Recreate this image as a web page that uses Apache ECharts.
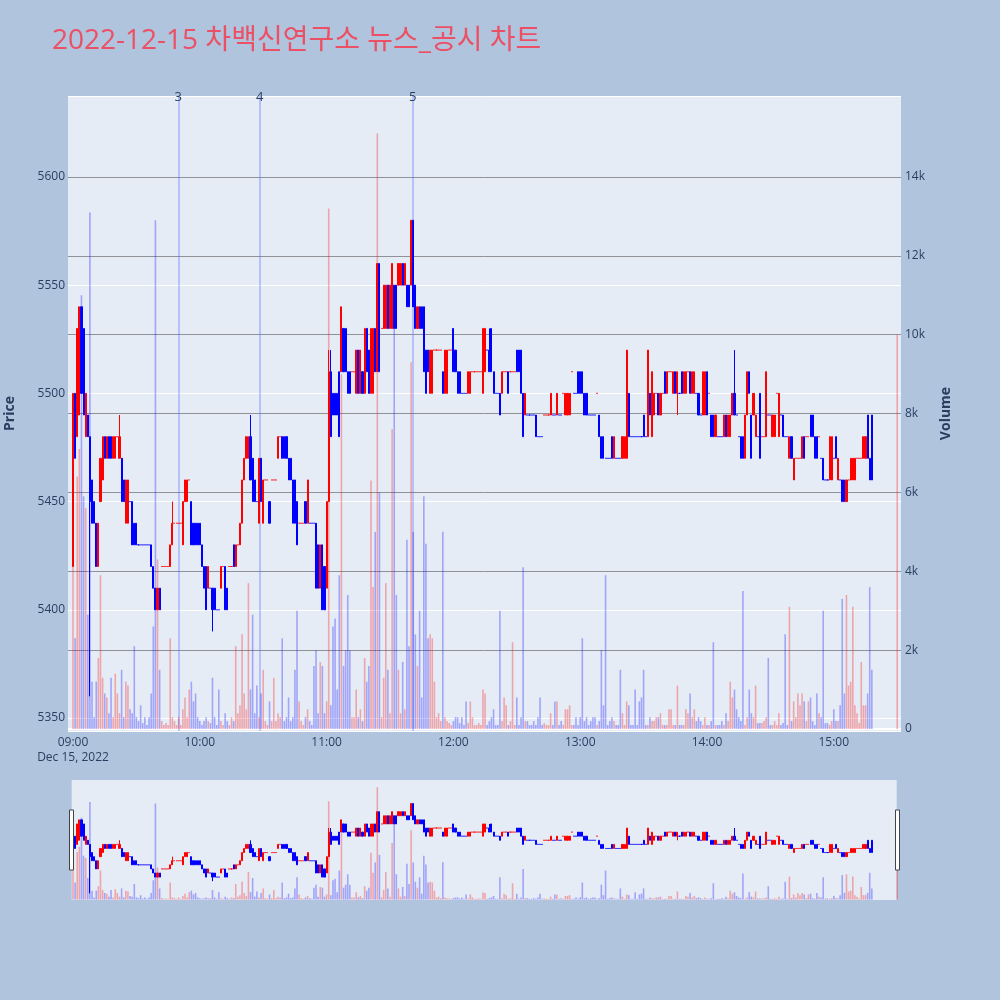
<!DOCTYPE html>
<html>
<head>
<meta charset="utf-8">
<script src="https://cdn.jsdelivr.net/npm/echarts@6.0.0/dist/echarts.min.js"></script>
<style>
  html, body { margin: 0; padding: 0; background: #B0C4DE; }
  #chart { width: 1000px; height: 1000px; }
</style>
</head>
<body>
<div id="chart"></div>
<script>
// one candle per minute from 09:00, [open, close, low, high]
const candles = [
  [5420,5500,5420,5500],[5500,5470,5470,5500],[5480,5530,5480,5530],[5490,5540,5490,5540],[5540,5500,5500,5540],
  [5530,5490,5490,5530],[5480,5500,5480,5500],[5490,5480,5480,5490],[5480,5450,5360,5480],[5460,5440,5440,5460],
  [5450,5440,5440,5450],[5440,5420,5420,5440],[5420,5440,5420,5440],[5450,5470,5450,5470],[5460,5480,5460,5480],
  [5480,5470,5470,5480],[5470,5480,5470,5480],[5480,5470,5470,5480],[5480,5470,5470,5480],[5470,5480,5470,5480],
  [5470,5480,5470,5480],[5480,5480,5480,5480],[5470,5480,5470,5490],[5470,5450,5450,5470],[5460,5450,5450,5460],
  [5440,5460,5440,5460],[5440,5460,5440,5460],[5450,5450,5450,5450],[5450,5430,5430,5450],[5440,5430,5430,5440],
  [5440,5430,5430,5440],[5430,5430,5430,5430],[5430,5430,5430,5430],[5430,5430,5430,5430],[5430,5430,5430,5430],
  [5430,5430,5430,5430],[5430,5430,5430,5430],[5430,5420,5420,5430],[5420,5410,5410,5420],[5410,5400,5400,5410],
  [5400,5410,5400,5410],[5410,5400,5400,5410],[5420,5420,5420,5420],[5420,5420,5420,5420],[5420,5420,5420,5420],
  [5420,5420,5420,5420],[5420,5430,5420,5430],[5430,5440,5430,5450],[5440,5440,5440,5440],[5440,5440,5440,5440],
  [5440,5440,5440,5440],[5440,5440,5440,5440],[5430,5450,5430,5450],[5450,5460,5450,5460],[5450,5460,5450,5460],
  [5460,5460,5460,5460],[5450,5430,5430,5450],[5440,5430,5430,5440],[5440,5430,5430,5440],[5440,5430,5430,5440],
  [5440,5430,5430,5440],[5430,5420,5420,5430],[5420,5410,5410,5420],[5420,5400,5400,5420],[5410,5420,5410,5420],
  [5410,5410,5410,5410],[5410,5400,5390,5410],[5410,5400,5400,5410],[5400,5400,5400,5400],[5400,5400,5400,5400],
  [5410,5420,5410,5420],[5420,5420,5420,5420],[5420,5400,5400,5420],[5410,5400,5400,5410],[5420,5420,5420,5420],
  [5420,5420,5420,5420],[5430,5420,5420,5430],[5420,5430,5420,5430],[5430,5430,5430,5430],[5430,5440,5430,5440],
  [5440,5460,5440,5460],[5460,5470,5460,5470],[5470,5480,5470,5480],[5470,5480,5470,5480],[5480,5460,5460,5490],
  [5470,5450,5450,5470],[5460,5450,5450,5460],[5450,5450,5450,5450],[5440,5470,5440,5470],[5470,5450,5450,5470],
  [5440,5460,5440,5460],[5460,5460,5460,5460],[5460,5460,5460,5460],[5450,5440,5440,5450],[5460,5460,5460,5460],
  [5460,5460,5460,5460],[5460,5460,5460,5460],[5470,5480,5470,5480],[5480,5480,5480,5480],[5480,5470,5470,5480],
  [5480,5470,5470,5480],[5480,5470,5470,5480],[5470,5460,5460,5470],[5470,5460,5460,5470],[5460,5440,5440,5460],
  [5460,5440,5440,5460],[5450,5430,5430,5450],[5440,5440,5440,5440],[5440,5440,5440,5440],[5440,5440,5440,5440],
  [5450,5440,5440,5450],[5440,5460,5440,5460],[5440,5440,5440,5440],[5440,5440,5440,5440],[5440,5440,5440,5440],
  [5440,5410,5410,5440],[5430,5410,5410,5430],[5410,5430,5410,5430],[5430,5400,5400,5430],[5420,5400,5400,5420],
  [5410,5450,5410,5450],[5450,5510,5450,5520],[5510,5480,5480,5520],[5500,5490,5490,5500],[5500,5490,5490,5500],
  [5500,5490,5490,5500],[5510,5480,5480,5510],[5510,5540,5510,5540],[5530,5510,5510,5530],[5530,5510,5510,5530],
  [5510,5500,5500,5510],[5510,5500,5500,5510],[5510,5510,5510,5510],[5510,5510,5510,5510],[5500,5520,5500,5520],
  [5520,5500,5500,5520],[5500,5520,5500,5520],[5510,5500,5500,5510],[5500,5530,5500,5530],[5530,5510,5510,5530],
  [5520,5500,5500,5520],[5500,5530,5500,5530],[5500,5530,5500,5530],[5530,5510,5510,5530],[5510,5560,5510,5560],
  [5560,5510,5510,5560],[5530,5530,5530,5530],[5530,5550,5530,5550],[5530,5550,5530,5550],[5550,5530,5530,5550],
  [5530,5550,5530,5550],[5530,5560,5530,5560],[5550,5530,5530,5550],[5550,5530,5530,5550],[5550,5560,5550,5560],
  [5550,5560,5550,5560],[5560,5550,5550,5560],[5550,5560,5550,5560],[5550,5540,5540,5550],[5550,5540,5540,5550],
  [5550,5580,5550,5580],[5580,5540,5540,5580],[5550,5530,5530,5550],[5530,5540,5530,5540],[5540,5530,5530,5540],
  [5540,5530,5530,5540],[5540,5510,5510,5540],[5520,5500,5500,5520],[5520,5510,5510,5520],[5500,5520,5500,5520],
  [5500,5520,5500,5520],[5520,5520,5520,5520],[5520,5520,5520,5520],[5520,5520,5520,5520],[5520,5520,5520,5520],
  [5510,5500,5500,5510],[5500,5520,5500,5520],[5500,5520,5500,5520],[5520,5520,5520,5520],[5520,5520,5520,5520],
  [5530,5510,5510,5530],[5520,5510,5510,5520],[5510,5500,5500,5510],[5510,5500,5500,5510],[5500,5500,5500,5500],
  [5500,5500,5500,5500],[5500,5500,5500,5500],[5500,5510,5500,5510],[5500,5510,5500,5510],[5510,5510,5510,5510],
  [5510,5510,5510,5510],[5510,5510,5510,5510],[5510,5510,5510,5510],[5510,5510,5510,5510],[5500,5530,5500,5530],
  [5510,5530,5510,5530],[5520,5520,5520,5520],[5520,5510,5510,5530],[5530,5510,5510,5530],[5510,5500,5500,5510],
  [5500,5500,5500,5500],[5500,5500,5500,5500],[5500,5490,5490,5500],[5500,5510,5500,5510],[5510,5510,5510,5510],
  [5510,5510,5510,5510],[5510,5500,5500,5510],[5510,5510,5510,5510],[5510,5510,5510,5510],[5510,5510,5510,5510],
  [5520,5510,5510,5520],[5520,5510,5510,5520],[5520,5500,5500,5520],[5500,5480,5480,5500],[5490,5500,5490,5500],
  [5490,5490,5490,5490],[5490,5490,5490,5490],[5490,5490,5490,5490],[5490,5490,5490,5490],[5490,5480,5480,5490],
  [5480,5480,5480,5480],[5480,5480,5480,5480],[5480,5480,5480,5480],[5490,5490,5490,5490],[5490,5490,5490,5490],
  [5490,5490,5490,5490],[5490,5500,5490,5500],[5490,5490,5490,5490],[5490,5490,5490,5490],[5490,5500,5490,5500],
  [5490,5490,5490,5490],[5490,5490,5490,5490],[5500,5500,5500,5500],[5490,5500,5490,5500],[5490,5500,5490,5500],
  [5490,5500,5490,5500],[5510,5510,5510,5510],[5500,5500,5500,5500],[5500,5500,5500,5500],[5510,5500,5500,5510],
  [5510,5500,5500,5510],[5510,5500,5500,5510],[5500,5490,5490,5500],[5500,5490,5490,5500],[5490,5490,5490,5490],
  [5490,5490,5490,5490],[5490,5490,5490,5490],[5490,5490,5490,5490],[5500,5500,5500,5500],
  [5490,5480,5480,5490],[5480,5470,5470,5480],[5480,5470,5470,5480],[5470,5470,5470,5470],[5470,5470,5470,5470],
  [5470,5470,5470,5470],[5480,5470,5470,5480],[5470,5480,5470,5480],[5470,5470,5470,5470],[5470,5470,5470,5470],
  [5470,5470,5470,5470],[5470,5480,5470,5480],[5470,5480,5470,5480],[5470,5520,5470,5520],[5500,5480,5480,5500],
  [5480,5480,5480,5480],[5480,5480,5480,5480],[5480,5480,5480,5480],[5480,5480,5480,5480],[5480,5480,5480,5480],
  [5480,5480,5480,5480],[5490,5480,5480,5490],[5480,5480,5480,5480],[5480,5520,5480,5520],[5500,5490,5490,5500],
  [5480,5510,5480,5510],[5490,5500,5490,5500],[5500,5500,5500,5500],[5500,5490,5490,5500],[5490,5500,5490,5500],
  [5500,5500,5500,5500],[5510,5500,5500,5510],[5500,5510,5500,5510],[5510,5510,5510,5510],[5510,5510,5510,5510],
  [5500,5510,5500,5510],[5510,5500,5500,5510],[5500,5510,5490,5510],[5500,5500,5500,5500],[5510,5500,5500,5510],
  [5500,5510,5500,5510],[5500,5510,5500,5510],[5510,5510,5510,5510],[5510,5500,5500,5510],[5500,5510,5500,5510],
  [5500,5510,5500,5510],[5500,5500,5500,5500],[5500,5490,5490,5500],[5490,5490,5490,5490],[5490,5510,5490,5510],
  [5490,5510,5490,5510],[5510,5490,5490,5510],[5500,5500,5500,5500],[5490,5480,5480,5490],[5490,5480,5480,5490],
  [5480,5490,5480,5490],[5480,5480,5480,5480],[5480,5480,5480,5480],[5480,5480,5480,5480],[5480,5490,5480,5490],
  [5490,5480,5480,5490],[5480,5490,5480,5490],[5480,5490,5480,5490],[5490,5500,5490,5500],[5500,5490,5490,5520],
  [5490,5490,5490,5490],[5480,5480,5480,5480],[5480,5470,5470,5480],[5480,5470,5470,5480],[5470,5490,5470,5490],
  [5490,5510,5490,5510],[5510,5500,5500,5510],[5490,5470,5470,5490],[5490,5500,5490,5500],[5480,5490,5480,5490],
  [5480,5480,5480,5480],[5500,5470,5470,5500],[5480,5480,5480,5480],[5480,5480,5480,5480],
  [5480,5510,5480,5510],[5490,5490,5490,5490],[5490,5490,5490,5490],[5480,5490,5480,5490],[5480,5490,5480,5490],
  [5500,5500,5500,5500],[5480,5500,5480,5500],[5490,5490,5490,5490],[5490,5480,5480,5490],[5480,5480,5480,5480],
  [5480,5480,5480,5480],[5470,5480,5470,5480],[5480,5470,5470,5480],[5460,5470,5460,5470],[5470,5470,5470,5470],
  [5470,5470,5470,5470],[5470,5470,5470,5470],[5470,5480,5470,5480],[5480,5470,5470,5480],[5480,5480,5480,5480],
  [5480,5480,5480,5480],[5490,5480,5480,5490],[5490,5480,5480,5490],[5480,5470,5470,5480],[5480,5470,5470,5480],
  [5480,5480,5480,5480],[5470,5470,5470,5470],[5470,5460,5460,5470],[5460,5460,5460,5460],[5460,5460,5460,5460],
  [5460,5480,5460,5480],[5460,5480,5460,5480],[5470,5470,5470,5470],[5480,5470,5470,5480],[5460,5470,5460,5470],
  [5460,5460,5460,5460],[5460,5450,5450,5460],[5460,5450,5450,5460],[5450,5460,5450,5460],[5460,5460,5460,5460],
  [5460,5470,5460,5470],[5460,5470,5460,5470],[5460,5470,5460,5470],[5470,5470,5470,5470],[5470,5470,5470,5470],
  [5470,5470,5470,5470],[5470,5480,5470,5480],[5470,5480,5470,5480],[5490,5470,5470,5490],[5470,5460,5460,5470],
  [5490,5460,5460,5490]
];

// traded volume for each of the minutes above
const volumes = [
  7600,2300,6400,7100,11000,5900,5600,2900,13100,1200,
  300,1200,1800,3900,1300,900,800,400,1300,300,
  1400,900,400,1500,300,1200,1100,500,400,2100,
  300,200,600,150,300,100,300,900,2600,12900,
  4300,1500,200,100,150,100,2300,300,200,100,
  300,100,500,800,300,1000,1200,700,900,300,
  200,100,200,300,200,150,1300,300,100,1000,
  200,100,400,200,100,300,200,2100,400,600,
  2400,900,500,3700,1000,2900,400,1100,300,900,
  1500,200,100,700,200,1300,200,400,300,2300,
  200,300,800,200,300,1500,3000,700,200,100,
  300,500,200,100,1600,2000,400,1700,1600,400,
  700,13200,600,2600,2800,1000,3900,9000,1600,2000,
  3400,2000,300,300,1000,300,500,200,1800,1200,
  1600,6300,3600,5000,15100,6000,300,1300,3700,1500,
  400,7600,11200,3400,1500,400,1700,500,4800,2100,
  9300,5000,2400,1600,3000,800,5900,4700,2300,2400,
  2300,1200,300,400,200,5000,300,200,150,100,
  200,300,300,150,300,100,700,150,700,300,
  100,100,150,100,1000,900,100,200,300,500,
  100,100,3000,200,800,600,100,200,2200,100,
  800,100,300,4100,200,200,100,100,200,100,
  300,800,100,150,100,100,400,100,700,700,
  100,200,100,500,500,600,100,100,300,100,
  300,2300,200,300,100,200,300,300,100,
  200,2000,600,3900,100,200,300,200,100,100,
  1500,400,100,700,600,100,100,1000,100,700,
  800,1500,100,100,300,200,200,300,300,400,
  100,100,100,500,500,100,100,1100,100,100,
  100,500,400,900,300,500,200,300,200,100,
  300,100,100,200,2200,100,100,100,200,100,
  400,200,1200,800,1000,500,300,200,3500,100,
  300,1000,400,300,1100,150,150,150,200,
  300,1800,100,100,200,100,400,100,150,2400,
  100,3100,200,700,300,900,600,900,700,200,
  700,800,200,100,900,400,300,3000,150,150,
  100,200,500,200,200,600,3300,900,3400,1100,
  1200,3100,600,400,150,1700,600,600,900,3600,1500
];

// 15:30 closing auction
const closingMinute = 390;
const closingVolume = 10000;

// news / disclosure marks (minutes after 09:00)
const newsMinutes = [49.8, 88.3, 160.8];
const newsLabels = ['3', '4', '5'];

const hourTicks = [0, 60, 120, 180, 240, 300, 360];
const hourLabels = ['09:00', '10:00', '11:00', '12:00', '13:00', '14:00', '15:00'];
const dateLabel = 'Dec 15, 2022';
const priceTicks = [5350, 5400, 5450, 5500, 5550, 5600];
const volumeTicks = [0, 2000, 4000, 6000, 8000, 10000, 12000, 14000];

const titleText = '2022-12-15 차백신연구소 뉴스_공시 차트';

const UP = '#FF0000';
const DOWN = '#0000FF';
const UP_VOL = 'rgba(255,0,0,0.3)';
const DOWN_VOL = 'rgba(0,0,255,0.3)';
const FONT = "'Open Sans', 'Noto Sans CJK KR', sans-serif";
const TXT = '#2a3f5f';

// candle direction; unchanged candles take the direction from the previous close
const dirs = [];
candles.forEach(([o, c], i) => {
  let d;
  if (c > o) d = 1;
  else if (c < o) d = -1;
  else if (i === 0) d = 1;
  else {
    const pc = candles[i - 1][1];
    d = c > pc ? 1 : c < pc ? -1 : dirs[i - 1];
  }
  dirs.push(d);
});

function candleData() {
  return candles.map((k, i) => {
    const col = dirs[i] > 0 ? UP : DOWN;
    return {
      value: [i, k[0], k[1], k[2], k[3]],
      itemStyle: { color: col, color0: col, borderColor: col, borderColor0: col }
    };
  });
}

function volumeData() {
  const out = volumes.map((v, i) => ({
    value: [i, v],
    itemStyle: { color: dirs[i] > 0 ? UP_VOL : DOWN_VOL }
  }));
  out.push({ value: [closingMinute, closingVolume], itemStyle: { color: UP_VOL } });
  return out;
}

const X_MIN = -2.37;
const X_MAX = 391.8;
const P_MIN = 5344;
const P_MAX = 5637.4;
const V_MIN = -51;
const V_MAX = 16054;

const chart = echarts.init(document.getElementById('chart'), null, {
  renderer: 'canvas', width: 1000, height: 1000
});

chart.setOption({
  animation: false,
  backgroundColor: '#B0C4DE',
  title: {
    text: titleText,
    left: 47,
    top: 22,
    textStyle: { color: '#EB5064', fontSize: 28, fontWeight: 'normal', fontFamily: FONT }
  },
  grid: [
    {
      left: 68, top: 96, width: 833, height: 635, show: true, backgroundColor: '#E5ECF6', borderWidth: 0,
      containLabel: false, outerBoundsMode: 'none'
    },
    { left: 68, top: 780, width: 833, height: 120, show: false, containLabel: false, outerBoundsMode: 'none' }
  ],
  xAxis: [
    {
      type: 'value', gridIndex: 0, min: X_MIN, max: X_MAX,
      axisLine: { show: false }, axisTick: { show: false }, splitLine: { show: false },
      axisLabel: {
        customValues: hourTicks,
        color: TXT, fontSize: 12, fontFamily: FONT, margin: 4, lineHeight: 15,
        formatter: v => {
          const i = hourTicks.indexOf(v);
          if (i < 0) return '';
          return i === 0 ? hourLabels[0] + '\n' + dateLabel : hourLabels[i];
        }
      }
    },
    { type: 'value', gridIndex: 1, min: X_MIN, max: X_MAX, show: false }
  ],
  yAxis: [
    {
      type: 'value', gridIndex: 0, min: P_MIN, max: P_MAX, position: 'left', splitNumber: 5,
      axisLine: { show: false }, axisTick: { show: false },
      splitLine: { show: true, lineStyle: { color: '#ffffff', width: 1 } },
      axisLabel: {
        color: TXT, fontSize: 12, fontFamily: FONT, margin: 3,
        showMinLabel: false, showMaxLabel: false,
        formatter: v => priceTicks.includes(v) ? String(v) : ''
      },
      name: 'Price', nameLocation: 'middle', nameGap: 51, nameRotate: 90,
      nameTextStyle: { color: TXT, fontSize: 14, fontWeight: 'bold', fontFamily: FONT }
    },
    {
      type: 'value', gridIndex: 0, min: V_MIN, max: V_MAX, position: 'right', splitNumber: 8,
      axisLine: { show: false }, axisTick: { show: false }, splitLine: { show: false },
      axisLabel: {
        color: TXT, fontSize: 12, fontFamily: FONT, margin: 4,
        showMinLabel: false, showMaxLabel: false,
        formatter: v => volumeTicks.includes(v) ? (v === 0 ? '0' : (v / 1000) + 'k') : ''
      },
      name: 'Volume', nameLocation: 'middle', nameGap: 38, nameRotate: 90,
      nameTextStyle: { color: TXT, fontSize: 14, fontWeight: 'bold', fontFamily: FONT }
    },
    { type: 'value', gridIndex: 1, min: P_MIN, max: P_MAX, show: false },
    { type: 'value', gridIndex: 1, min: V_MIN, max: V_MAX, show: false }
  ],
  graphic: [
    // range slider background and handles
    { type: 'rect', silent: true, z: -1, shape: { x: 71.7, y: 780, width: 825, height: 120 }, style: { fill: '#E5ECF6' } },
    { type: 'rect', silent: true, z: 50, shape: { x: 69.5, y: 810, width: 4, height: 60 }, style: { fill: '#ffffff', stroke: '#444444', lineWidth: 1 } },
    { type: 'rect', silent: true, z: 50, shape: { x: 895.5, y: 810, width: 4, height: 60 }, style: { fill: '#ffffff', stroke: '#444444', lineWidth: 1 } }
  ],
  series: [
    {
      type: 'bar', name: 'Volume', xAxisIndex: 0, yAxisIndex: 1,
      data: volumeData(), barWidth: 1.6, z: 2, silent: true,
      markLine: {
        silent: true, symbol: ['none', 'none'], z: 1, animation: false,
        label: { show: false },
        data: volumeTicks.map(v => ({
          yAxis: v,
          lineStyle: { color: v === 0 ? '#ffffff' : '#909298', width: v === 0 ? 2 : 1, type: 'solid' }
        }))
      }
    },
    {
      type: 'candlestick', name: 'Price', xAxisIndex: 0, yAxisIndex: 0,
      data: candleData(), barWidth: 1.6, z: 3, silent: true,
      encode: { x: 0, y: [1, 2, 3, 4] },
      itemStyle: { borderWidth: 1 },
      markLine: {
        silent: true, symbol: ['none', 'none'], z: 2, animation: false,
        lineStyle: { color: 'rgba(90,110,255,0.45)', width: 1.5, type: 'solid' },
        label: {
          show: true, position: 'end', distance: -8,
          color: TXT, fontSize: 13, fontFamily: FONT, formatter: '{b}'
        },
        data: newsMinutes.map((m, i) => ({ xAxis: m, name: newsLabels[i] }))
      }
    },
    {
      type: 'bar', xAxisIndex: 1, yAxisIndex: 3,
      data: volumeData(), barWidth: 1.6, z: 2, silent: true
    },
    {
      type: 'candlestick', xAxisIndex: 1, yAxisIndex: 2,
      data: candleData(), barWidth: 1.6, z: 3, silent: true,
      encode: { x: 0, y: [1, 2, 3, 4] },
      itemStyle: { borderWidth: 1 }
    }
  ]
});
</script>
</body>
</html>
